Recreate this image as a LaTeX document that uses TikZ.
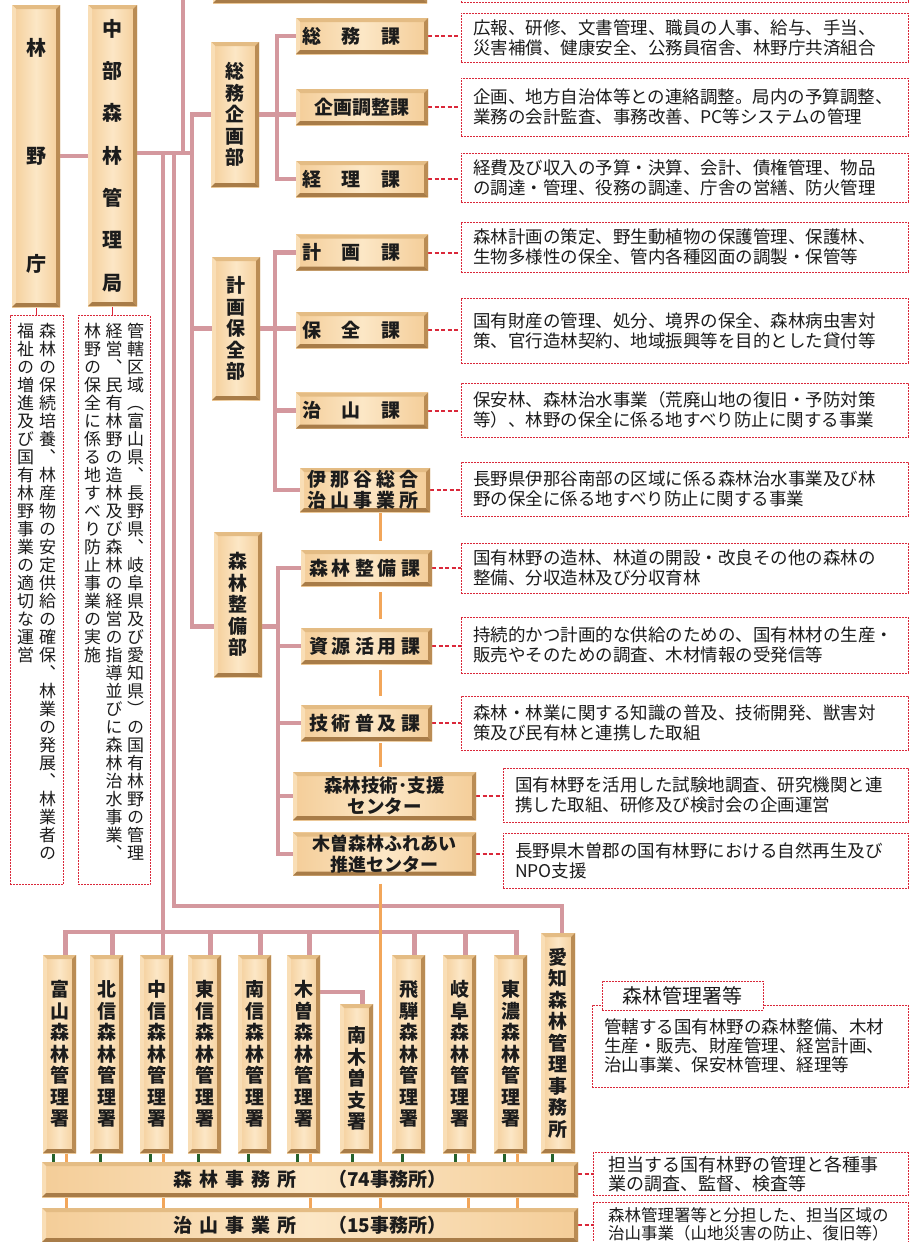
\documentclass[tikz,border=0pt]{standalone}
\usepackage{fontspec}
\setmainfont{Noto Sans CJK JP}
\newfontfamily\tatefont[RawFeature=+vert]{Noto Sans CJK JP}
\usetikzlibrary{backgrounds}

\definecolor{woodA}{RGB}{244,205,152}
\definecolor{woodB}{RGB}{252,231,198}
\definecolor{woodT}{RGB}{228,188,132}
\definecolor{woodL}{RGB}{249,222,182}
\definecolor{woodR}{RGB}{186,140,84}
\definecolor{woodD}{RGB}{168,124,72}
\definecolor{pinkline}{RGB}{212,152,158}
\definecolor{orline}{RGB}{242,166,90}
\definecolor{grline}{RGB}{38,98,44}
\definecolor{redd}{RGB}{218,40,58}
\definecolor{ink}{RGB}{28,28,28}

\ExplSyntaxOn
\NewDocumentCommand\tate{O{21.5pt}m}
  {
    \vtop
      {
        \baselineskip=#1\relax
        \lineskiplimit=-\maxdimen
        \tl_map_inline:nn {#2} { \hbox_to_wd:nn {1em} { \hss ##1 \hss } }
      }
  }
\NewDocumentCommand\yoko{O{4pt}m}
  {
    \tl_map_inline:nn {#2} { ##1 \hspace{#1} }
    \hspace{-#1}
  }
\ExplSyntaxOff

\begin{document}
\begin{tikzpicture}[x=1pt,y=-1pt]
  \tikzstyle{every node}+=[inner sep=0pt]
  \tikzstyle{wood}=[text=ink, left color=woodA, right color=woodA, middle color=woodB,
    font=\bfseries\fontsize{19}{21}\selectfont,
    path picture={
      \path (path picture bounding box.north west) coordinate (p1)
            (path picture bounding box.north east) coordinate (p2)
            (path picture bounding box.south east) coordinate (p3)
            (path picture bounding box.south west) coordinate (p4);
      \fill[woodT] (p1) -- (p2) -- ([shift={(-4pt,-4pt)}]p2) -- ([shift={(4pt,-4pt)}]p1) -- cycle;
      \fill[woodL] (p1) -- (p4) -- ([shift={(4pt,4pt)}]p4) -- ([shift={(4pt,-4pt)}]p1) -- cycle;
      \fill[woodR] (p2) -- (p3) -- ([shift={(-4pt,4pt)}]p3) -- ([shift={(-4pt,-4pt)}]p2) -- cycle;
      \fill[woodD] (p4) -- (p3) -- ([shift={(-4pt,4pt)}]p3) -- ([shift={(4pt,4pt)}]p4) -- cycle;
    }]
  \tikzstyle{ka}=[wood, minimum width=132pt, minimum height=36pt]
  \tikzstyle{bu}=[wood, minimum width=48pt, minimum height=145pt]
  \tikzstyle{sho}=[wood, minimum width=33pt, minimum height=198pt]
  \tikzstyle{desc}=[draw=redd, line width=1pt, dash pattern=on 2pt off 1pt, fill=white, text=ink,
    align=left, inner xsep=12pt, text width=423pt, font=\fontsize{17.5}{20}\selectfont]
  \tikzstyle{tdesc}=[draw=redd, line width=1pt, dash pattern=on 2pt off 1pt, fill=white, text=ink,
    anchor=north, inner ysep=7pt, text height=15pt, text depth=540pt, font=\tatefont\fontsize{17}{18}\selectfont]
  \tikzstyle{pk}=[draw=pinkline, line width=4.2pt]
  \tikzstyle{og}=[draw=orline, line width=3pt]
  \tikzstyle{gr}=[draw=grline, line width=3pt]
  \tikzstyle{rd}=[draw=redd, line width=2pt, dash pattern=on 4pt off 2.5pt]

  \useasboundingbox (0,0) rectangle (910,1242);
  \clip (0,0) rectangle (910,1242);

  \node [wood, minimum width=214pt, minimum height=43pt] (top) at (320,-18.5) {};
  \node [desc, minimum height=44pt] (d_top) at (684.5,-20) {};

  \node [wood, minimum width=48pt, minimum height=302pt, font=\bfseries\fontsize{20}{22}\selectfont] (rinya) at (36,156) {\tate[108pt]{林野庁}};
  \node [wood, minimum width=49pt, minimum height=301pt, font=\bfseries\fontsize{20}{22}\selectfont] (chubu) at (112.5,155.5) {\tate[42.3pt]{中部森林管理局}};
  \node [tdesc, minimum width=53pt] (d_rinya) at (36.5,315) {\tate[18pt]{福祉の増進及び国有林野事業の適切な運営}\hspace{5pt}\tate[18pt]{森林の保続培養、林産物の安定供給の確保、林業の発展、林業者の}};
  \node [tdesc, minimum width=72pt] (d_chubu) at (114,315) {\tate[18pt]{林野の保全に係る地すべり防止事業の実施}\hspace{4.5pt}\tate[18pt]{経営、民有林野の造林及び森林の経営の指導並びに森林治水事業、}\hspace{4.5pt}\tate[18pt]{管轄区域（富山県、長野県、岐阜県及び愛知県）の国有林野の管理}};

  \node [bu] (somubu) at (235,114.5) {\tate{総務企画部}};
  \node [bu, minimum height=143pt] (keikakubu) at (236,328.5) {\tate{計画保全部}};
  \node [bu] (seibibu) at (238,604.5) {\tate{森林整備部}};

  \node [ka] (somuka) at (362,36) {\yoko[21pt]{総務課}};
  \node [ka] (kikaku) at (362,107) {企画調整課};
  \node [ka] (keiri) at (362,179) {\yoko[21pt]{経理課}};
  \node [ka] (keikakuka) at (362,252.5) {\yoko[21pt]{計画課}};
  \node [ka] (hozen) at (362,330) {\yoko[21pt]{保全課}};
  \node [ka] (chisanka) at (362,410.5) {\yoko[21pt]{治山課}};
  \node [ka, minimum width=130pt, minimum height=44pt, align=center] (ina) at (365,490) {\yoko{伊那谷総合}\\\yoko{治山事業所}};
  \node [ka, minimum width=131pt] (seibika) at (366.5,568) {\yoko{森林整備課}};
  \node [ka, minimum width=131pt] (shigen) at (366.5,646) {\yoko{資源活用課}};
  \node [ka, minimum width=131pt] (gijutsu) at (366.5,723) {\yoko{技術普及課}};
  \node [wood, minimum width=183pt, minimum height=48pt, align=center, font=\bfseries\fontsize{18.5}{20.5}\selectfont] (shien) at (384.5,796) {森林技術･支援\\センター};
  \node [wood, minimum width=183pt, minimum height=43pt, align=center, font=\bfseries\fontsize{18}{20.5}\selectfont] (fureai) at (384.5,854) {木曽森林ふれあい\\推進センター};

  \node [desc, minimum height=49pt] (d_somu) at (684.5,37.5) {広報、研修、文書管理、職員の人事、給与、手当、\\災害補償、健康安全、公務員宿舎、林野庁共済組合};
  \node [desc, minimum height=58pt] (d_kikaku) at (684.5,107) {企画、地方自治体等との連絡調整。局内の予算調整、\\業務の会計監査、事務改善、PC等システムの管理};
  \node [desc, minimum height=49pt] (d_keiri) at (684.5,177.5) {経費及び収入の予算・決算、会計、債権管理、物品\\の調達・管理、役務の調達、庁舎の営繕、防火管理};
  \node [desc, minimum height=50pt] (d_keikaku) at (684.5,247) {森林計画の策定、野生動植物の保護管理、保護林、\\生物多様性の保全、管内各種図面の調製・保管等};
  \node [desc, minimum height=65pt] (d_hozen) at (684.5,330.5) {国有財産の管理、処分、境界の保全、森林病虫害対\\策、官行造林契約、地域振興等を目的とした貸付等};
  \node [desc, minimum height=54pt] (d_chisan) at (684.5,410) {保安林、森林治水事業（荒廃山地の復旧・予防対策\\等）、林野の保全に係る地すべり防止に関する事業};
  \node [desc, minimum height=54pt] (d_ina) at (684.5,489) {長野県伊那谷南部の区域に係る森林治水事業及び林\\野の保全に係る地すべり防止に関する事業};
  \node [desc, minimum height=50pt] (d_seibi) at (684.5,568) {国有林野の造林、林道の開設・改良その他の森林の\\整備、分収造林及び分収育林};
  \node [desc, minimum height=56pt] (d_shigen) at (684.5,645) {持続的かつ計画的な供給のための、国有林材の生産・\\販売やそのための調査、木材情報の受発信等};
  \node [desc, minimum height=54pt] (d_gijutsu) at (684.5,723) {森林・林業に関する知識の普及、技術開発、獣害対\\策及び民有林と連携した取組};
  \node [desc, text width=381pt, minimum height=54pt] (d_shien) at (705.5,795) {国有林野を活用した試験地調査、研究機関と連\\携した取組、研修及び検討会の企画運営};
  \node [desc, text width=381pt, minimum height=55pt] (d_fureai) at (705.5,860.5) {長野県木曽郡の国有林野における自然再生及び\\NPO支援};

  \node [sho] (toyama) at (59.5,1054) {\tate{富山森林管理署}};
  \node [sho] (hokushin) at (106.5,1054) {\tate{北信森林管理署}};
  \node [sho] (chushin) at (156.5,1054) {\tate{中信森林管理署}};
  \node [sho] (toshin) at (204.5,1054) {\tate{東信森林管理署}};
  \node [sho] (nanshin) at (254.5,1054) {\tate{南信森林管理署}};
  \node [sho] (kiso) at (303.5,1054) {\tate{木曽森林管理署}};
  \node [sho, minimum height=149pt] (nagiso) at (356.5,1078.5) {\tate{南木曽支署}};
  \node [sho] (hida) at (408.5,1054) {\tate{飛騨森林管理署}};
  \node [sho] (gifu) at (459.5,1054) {\tate{岐阜森林管理署}};
  \node [sho] (tono) at (510.5,1054) {\tate{東濃森林管理署}};
  \node [sho, minimum width=34pt, minimum height=220pt] (aichi) at (558,1043) {\tate{愛知森林管理事務所}};

  \node [wood, minimum width=536pt, minimum height=35pt] (jimusho) at (310,1179.5) {\yoko[7pt]{森林事務所}\hspace{32pt}（74事務所）};
  \node [wood, minimum width=536pt, minimum height=34pt] (chisanjo) at (310,1225) {\yoko[7pt]{治山事業所}\hspace{32pt}（15事務所）};

  \node [desc, text width=292pt, minimum height=82pt, font=\fontsize{17.5}{19}\selectfont] (d_sho) at (750,1046) {管轄する国有林野の森林整備、木材\\生産・販売、財産管理、経営計画、\\治山事業、保安林管理、経理等};
  \node [desc, text width=161pt, inner xsep=0pt, minimum height=29pt, align=center, font=\fontsize{20}{22}\selectfont] (tab) at (682.5,995.5) {森林管理署等};
  \node [desc, inner xsep=15pt, text width=285pt, minimum height=43pt, font=\fontsize{18}{19}\selectfont] (d_jimusho) at (750.5,1174) {担当する国有林野の管理と各種事\\業の調査、監督、検査等};
  \node [desc, inner xsep=15pt, text width=285pt, minimum height=44pt, font=\fontsize{16.5}{18}\selectfont] (d_chisanjo) at (750.5,1224) {森林管理署等と分担した、担当区域の\\治山事業（山地災害の防止、復旧等）};

  \begin{scope}[on background layer]
  \coordinate (hub) at (192,153);
  \coordinate (upj) at (183,153);
  \coordinate (up) at (183,-10);
  \coordinate (c1) at (163,153);
  \coordinate (c2) at (174,153);
  \coordinate (busy) at (0,932);
  \coordinate (aichiy) at (0,906);
  \coordinate (b1) at (277,0);
  \coordinate (b2) at (275,0);
  \coordinate (b3) at (278,0);
  \coordinate (ox) at (380,0);
  \draw[pk] (rinya.east) -- (rinya.east -| chubu.west);
  \draw[pk] (chubu.east |- hub) -- (hub);
  \draw[pk] (upj) -- (up);
  \draw[pk] (somubu.west) -| (hub) |- ([yshift=-22pt]seibibu.west);
  \draw[pk] (keikakubu.west) -- (keikakubu.west -| hub);
  \draw[pk] (somubu.east) -- (somubu.east -| kikaku.west);
  \draw[pk] (somuka.west) -| (b1 |- keiri.west) -- (keiri.west);
  \draw[pk] (keikakubu.east) -- (keikakubu.east -| hozen.west);
  \draw[pk] (keikakuka.west) -| (b2 |- ina.west) -- (ina.west);
  \draw[pk] (chisanka.west) -- (chisanka.west -| b2);
  \draw[pk] ([yshift=-22pt]seibibu.east) -- ([yshift=-22pt]seibibu.east -| b3);
  \draw[pk] (seibika.west) -| (b3 |- fureai.west) -- (fureai.west);
  \draw[pk] (shigen.west) -- (shigen.west -| b3);
  \draw[pk] (gijutsu.west) -- (gijutsu.west -| b3);
  \draw[pk] (shien.west) -- (shien.west -| b3);
  \draw[pk] (c1) -- (c1 |- chushin.north);
  \draw[pk] (c2) |- ([xshift=4pt]aichi.north |- aichiy) -- ([xshift=4pt]aichi.north);
  \draw[pk] ([xshift=6pt]toyama.north) |- ([xshift=6pt]tono.north |- busy) -- ([xshift=6pt]tono.north);
  \draw[pk] ([xshift=6pt]hokushin.north) -- ([xshift=6pt]hokushin.north |- busy);
  \draw[pk] ([xshift=6pt]toshin.north) -- ([xshift=6pt]toshin.north |- busy);
  \draw[pk] ([xshift=6pt]nanshin.north) -- ([xshift=6pt]nanshin.north |- busy);
  \draw[pk] ([xshift=6pt]kiso.north) -- ([xshift=6pt]kiso.north |- busy);
  \draw[pk] ([xshift=6pt]hida.north) -- ([xshift=6pt]hida.north |- busy);
  \draw[pk] ([xshift=6pt]gifu.north) -- ([xshift=6pt]gifu.north |- busy);
  \draw[pk] ([yshift=62pt]kiso.east) -| ([xshift=6pt]nagiso.north);
  \draw[og, shorten >=9pt] (ina.south -| ox) -- (seibika.north -| ox);
  \draw[og, shorten <=6pt, shorten >=9pt] (seibika.south -| ox) -- (shigen.north -| ox);
  \draw[og, shorten <=6pt, shorten >=9pt] (shigen.south -| ox) -- (gijutsu.north -| ox);
  \draw[og, shorten <=2pt, shorten >=5pt] (gijutsu.south -| ox) -- (shien.north -| ox);
  \draw[og, shorten <=8pt] (fureai.south -| ox) -- (chisanjo.north -| ox);
  \draw[og] ([xshift=7pt]toyama.south) -- ([xshift=7pt]toyama.south |- chisanjo.north);
  \draw[og] ([xshift=7pt]chushin.south) -- ([xshift=7pt]chushin.south |- chisanjo.north);
  \draw[og] ([xshift=7pt]kiso.south) -- ([xshift=7pt]kiso.south |- chisanjo.north);
  \draw[og] ([xshift=9pt]gifu.south) -- ([xshift=9pt]gifu.south |- chisanjo.north);
  \draw[og] ([xshift=7pt]tono.south) -- ([xshift=7pt]tono.south |- chisanjo.north);
  \draw[gr] ([xshift=-6pt]toyama.south) -- ([xshift=-6pt]toyama.south |- jimusho.north);
  \draw[gr] ([xshift=-6pt]hokushin.south) -- ([xshift=-6pt]hokushin.south |- jimusho.north);
  \draw[gr] ([xshift=-6pt]chushin.south) -- ([xshift=-6pt]chushin.south |- jimusho.north);
  \draw[gr] ([xshift=-6pt]toshin.south) -- ([xshift=-6pt]toshin.south |- jimusho.north);
  \draw[gr] ([xshift=-6pt]nanshin.south) -- ([xshift=-6pt]nanshin.south |- jimusho.north);
  \draw[gr] ([xshift=-6pt]kiso.south) -- ([xshift=-6pt]kiso.south |- jimusho.north);
  \draw[gr] ([xshift=-4pt]nagiso.south) -- ([xshift=-4pt]nagiso.south |- jimusho.north);
  \draw[gr] ([xshift=-6pt]hida.south) -- ([xshift=-6pt]hida.south |- jimusho.north);
  \draw[gr] ([xshift=-4pt]gifu.south) -- ([xshift=-4pt]gifu.south |- jimusho.north);
  \draw[gr] ([xshift=-6pt]tono.south) -- ([xshift=-6pt]tono.south |- jimusho.north);
  \draw[gr] ([xshift=-6pt]aichi.south) -- ([xshift=-6pt]aichi.south |- jimusho.north);
  \draw[redd, line width=1pt] (rinya.south) -- (rinya.south |- d_rinya.north);
  \draw[redd, line width=1pt] (chubu.south) -- (chubu.south |- d_chubu.north);
  \draw[rd] (somuka.east) -- (somuka.east -| d_somu.west);
  \draw[rd] (kikaku.east) -- (kikaku.east -| d_kikaku.west);
  \draw[rd] (keiri.east) -- (keiri.east -| d_keiri.west);
  \draw[rd] (keikakuka.east) -- (keikakuka.east -| d_keikaku.west);
  \draw[rd] (hozen.east) -- (hozen.east -| d_hozen.west);
  \draw[rd] (chisanka.east) -- (chisanka.east -| d_chisan.west);
  \draw[rd] (ina.east) -- (ina.east -| d_ina.west);
  \draw[rd] (seibika.east) -- (seibika.east -| d_seibi.west);
  \draw[rd] (shigen.east) -- (shigen.east -| d_shigen.west);
  \draw[rd] (gijutsu.east) -- (gijutsu.east -| d_gijutsu.west);
  \draw[rd] (shien.east) -- (shien.east -| d_shien.west);
  \draw[rd] (fureai.east) -- (fureai.east -| d_fureai.west);
  \draw[rd] (jimusho.east |- d_jimusho.west) -- (d_jimusho.west);
  \draw[rd] (chisanjo.east) -- (chisanjo.east -| d_chisanjo.west);
  \end{scope}
\end{tikzpicture}
\end{document}
